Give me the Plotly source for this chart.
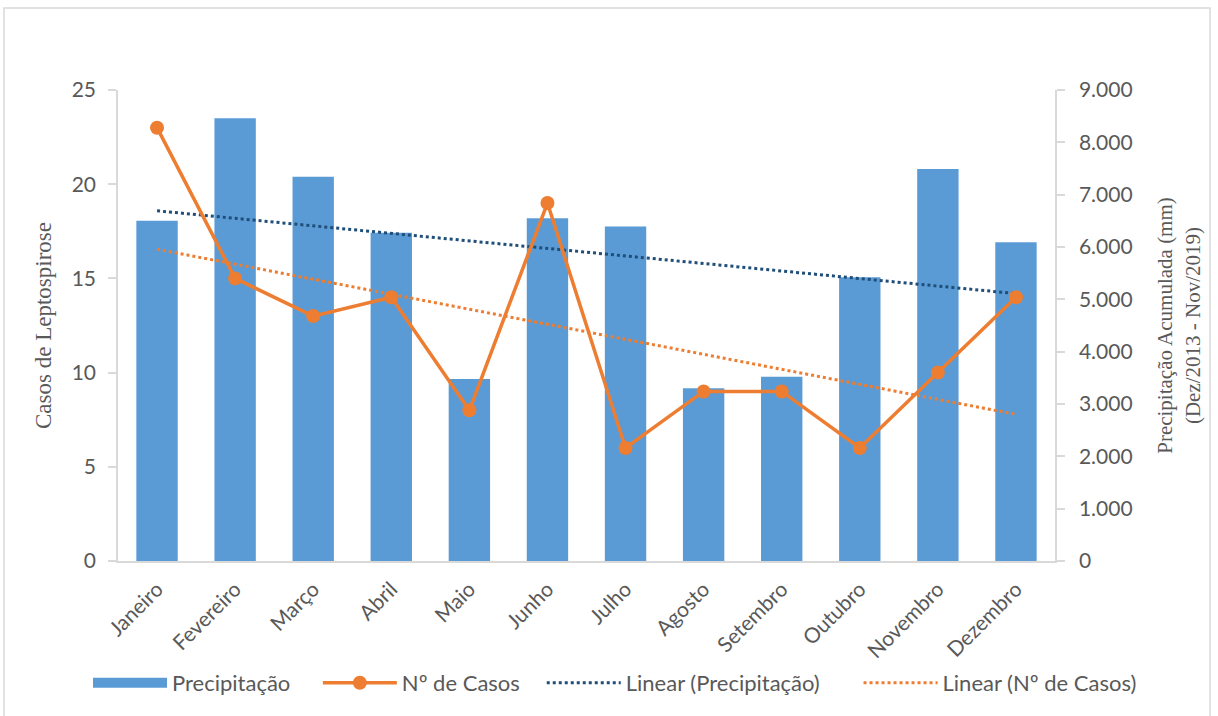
import numpy as np
import plotly.graph_objects as go

meses = ["Janeiro", "Fevereiro", "Março", "Abril", "Maio", "Junho",
         "Julho", "Agosto", "Setembro", "Outubro", "Novembro", "Dezembro"]
precipitacao = [6500, 8460, 7340, 6270, 3480, 6550, 6390, 3300, 3520, 5420, 7490, 6090]
casos = [23, 15, 13, 14, 8, 19, 6, 9, 9, 6, 10, 14]
ticks_casos = [0, 5, 10, 15, 20, 25]
ticks_prec = [0, 1000, 2000, 3000, 4000, 5000, 6000, 7000, 8000, 9000]
ticks_prec_txt = ["0", "1.000", "2.000", "3.000", "4.000", "5.000",
                  "6.000", "7.000", "8.000", "9.000"]

# linear trend lines (least squares over month index)
idx = np.arange(1, len(meses) + 1)
a_p, b_p = np.polyfit(idx, precipitacao, 1)
a_c, b_c = np.polyfit(idx, casos, 1)
tend_prec = a_p * idx + b_p
tend_casos = a_c * idx + b_c

GRAY = "#595959"
AXIS = "#D9D9D9"
SANS = "Lato, 'Open Sans', sans-serif"
SERIF = "'Liberation Serif', serif"
tick_font = dict(family=SANS, size=21, color=GRAY)
BLUE = "#5B9BD5"
ORANGE = "#ED7D31"
NAVY = "#1F4E79"
NB = "\u00a0"  # spacing between legend entries

fig = go.Figure()
fig.add_trace(go.Bar(x=meses, y=precipitacao, name="Precipitação", yaxis="y2",
                     marker=dict(color=BLUE, line=dict(width=0)), showlegend=False))
# wide rectangular legend swatch for the bars
fig.add_trace(go.Scatter(x=[None], y=[None], name="Precipitação" + NB * 4, mode="lines",
                         line=dict(color=BLUE, width=15), yaxis="y2"))
fig.add_trace(go.Scatter(x=meses, y=casos, name="Nº de Casos" + NB * 3, mode="lines+markers",
                         line=dict(color=ORANGE, width=3.5),
                         marker=dict(color=ORANGE, size=14)))
fig.add_trace(go.Scatter(x=meses, y=tend_prec, name="Linear (Precipitação)" + NB * 6,
                         mode="lines", yaxis="y2",
                         line=dict(color=NAVY, width=3, dash="dot")))
fig.add_trace(go.Scatter(x=meses, y=tend_casos, name="Linear (Nº de Casos)", mode="lines",
                         line=dict(color=ORANGE, width=3, dash="dot")))

fig.update_layout(
    width=1218, height=716,
    margin=dict(l=118, r=163, t=90, b=155, autoexpand=False),
    paper_bgcolor="white", plot_bgcolor="white",
    bargap=0.47,
    showlegend=True,
    legend=dict(orientation="h", x=(1142 - 118) / 937, xanchor="right",
                y=-0.259, yanchor="middle",
                font=dict(family=SANS, size=22, color=GRAY),
                itemwidth=74, traceorder="normal"),
    xaxis=dict(type="category", range=[-0.5, 11.5], showgrid=False, showline=True,
               linecolor=AXIS, linewidth=1.5, ticks="", tickangle=-45,
               ticklabelstandoff=6,
               tickfont=dict(family=SANS, size=21, color=GRAY)),
    yaxis=dict(range=[0, 25], tickvals=ticks_casos, showgrid=False, zeroline=False,
               showline=True, linecolor=AXIS, linewidth=1.5, ticks="outside",
               ticklen=8, tickcolor=AXIS, tickwidth=1.5, tickfont=tick_font,
               ticklabelstandoff=8,
               title=dict(text="Casos de Leptospirose",
                          font=dict(family=SERIF, size=23, color=GRAY),
                          standoff=14),
               overlaying="y2"),
    yaxis2=dict(range=[0, 9000], tickvals=ticks_prec, ticktext=ticks_prec_txt,
                side="right", showgrid=False, zeroline=False,
                showline=True, linecolor=AXIS, linewidth=1.5, ticks="outside",
                ticklen=8, tickcolor=AXIS, tickwidth=1.5, tickfont=tick_font,
                ticklabelstandoff=10,
                title=dict(text="Precipitação Acumulada (mm)<br>(Dez/2013 - Nov/2019)",
                           font=dict(family=SERIF, size=21, color=GRAY),
                           standoff=26)),
    shapes=[dict(type="rect", xref="paper", yref="paper",
                 x0=(4 - 118) / 937, x1=(1210 - 118) / 937,
                 y0=(561 - 730) / 471, y1=(561 - 8) / 471,
                 line=dict(color="#D9D9D9", width=1.5), fillcolor="rgba(0,0,0,0)",
                 layer="below")],
)

fig.write_html("out.html")
